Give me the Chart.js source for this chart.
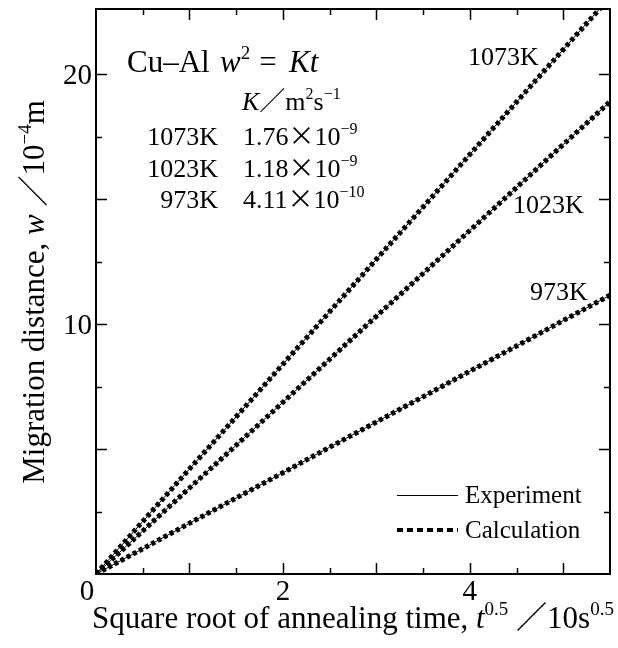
<!DOCTYPE html>
<html>
<head>
<meta charset="utf-8">
<script src="https://cdn.jsdelivr.net/npm/chart.js@4.4.1/dist/chart.umd.min.js"></script>
<style>
  html, body { margin: 0; padding: 0; background: #fff; }
  #wrap { width: 618px; height: 648px; }
</style>
</head>
<body>
<div id="wrap"><canvas id="c" width="618" height="648"></canvas></div>
<script>
// Square root of annealing time (units of 10 s^0.5)
const sqrtTime = [0, 0.5, 1, 1.5, 2, 2.5, 3, 3.5, 4, 4.5, 5, 5.5];
// Migration distance w (units of 1e-4 m) at each annealing temperature
const w1073 = [0, 2.10, 4.20, 6.29, 8.39, 10.49, 12.59, 14.68, 16.78, 18.88, 20.98, 23.07];
const w1023 = [0, 1.72, 3.44, 5.15, 6.87, 8.59, 10.31, 12.02, 13.74, 15.46, 17.18, 18.89];
const w973  = [0, 1.01, 2.03, 3.04, 4.05, 5.07, 6.08, 7.09, 8.11, 9.12, 10.14, 11.15];

const temperatures = ['1073K', '1023K', '973K'];
const kMantissa = ['1.76', '1.18', '4.11'];
const kExponent = ['−9', '−9', '−10'];

const xTickValues = [0, 2, 4];
const xTickLabels = ['0', '2', '4'];
const yTickValues = [10, 20];
const yTickLabels = ['10', '20'];

const seriesW = [w1073, w1023, w973];

const SERIF = '"Liberation Serif", "Times New Roman", serif';
const CJK = '"Noto Sans CJK JP", "Liberation Serif", serif';

function pts(ys) { return sqrtTime.map((x, i) => ({ x: x, y: ys[i] })); }

const datasets = [];
seriesW.forEach((ys, i) => {
  datasets.push({
    label: 'Calculation ' + temperatures[i],
    data: pts(ys),
    borderColor: '#000',
    borderWidth: 5,
    borderDash: [4, 3],
    borderCapStyle: 'butt',
    pointRadius: 0,
    tension: 0,
    fill: false
  });
  datasets.push({
    label: 'Experiment ' + temperatures[i],
    data: pts(ys),
    borderColor: '#000',
    borderWidth: 1,
    pointRadius: 0,
    tension: 0,
    fill: false
  });
});

// Draws a run of text pieces; style: '' regular, 'i' italic, 's' superscript, 'cjk' full-width glyph
function pieceFont(style, size) {
  if (style === 's') return (Math.round(size * 0.62)) + 'px ' + SERIF;
  if (style === 'i') return 'italic ' + size + 'px ' + SERIF;
  if (style === 'cjk') return size + 'px ' + CJK;
  return size + 'px ' + SERIF;
}
function richWidth(ctx, segs, size) {
  let w = 0;
  segs.forEach(([t, st]) => { ctx.font = pieceFont(st, size); w += ctx.measureText(t).width; });
  return w;
}
function drawRich(ctx, segs, x, y, size, align) {
  const total = richWidth(ctx, segs, size);
  let cx = align === 'center' ? x - total / 2 : align === 'right' ? x - total : x;
  ctx.textBaseline = 'alphabetic';
  ctx.textAlign = 'left';
  segs.forEach(([t, st]) => {
    ctx.font = pieceFont(st, size);
    const dy = st === 's' ? -size * 0.42 : 0;
    ctx.fillText(t, cx, y + dy);
    cx += ctx.measureText(t).width;
  });
}

const decorations = {
  id: 'decorations',
  afterDatasetsDraw(chart) {
    const { ctx, chartArea: a, scales: { x, y } } = chart;
    ctx.save();
    ctx.fillStyle = '#000';
    ctx.strokeStyle = '#000';

    // frame
    ctx.lineWidth = 2;
    ctx.strokeRect(a.left, a.top, a.right - a.left, a.bottom - a.top);

    // inward ticks on all four sides
    ctx.lineWidth = 1.5;
    ctx.beginPath();
    for (let k = 1; k < 11; k++) {
      const v = k * 0.5;
      const px = Math.round(x.getPixelForValue(v)) + 0.5;
      const len = k % 2 === 0 ? 11 : 6;
      ctx.moveTo(px, a.bottom); ctx.lineTo(px, a.bottom - len);
      ctx.moveTo(px, a.top); ctx.lineTo(px, a.top + len);
    }
    for (let k = 1; k < 9; k++) {
      const v = k * 2.5;
      const py = Math.round(y.getPixelForValue(v)) + 0.5;
      const len = k % 2 === 0 ? 11 : 6;
      ctx.moveTo(a.left, py); ctx.lineTo(a.left + len, py);
      ctx.moveTo(a.right, py); ctx.lineTo(a.right - len, py);
    }
    ctx.stroke();

    // tick labels
    ctx.font = '29px ' + SERIF;
    ctx.textBaseline = 'alphabetic';
    xTickValues.forEach((v, i) => {
      ctx.textAlign = 'center';
      const px = v === 0 ? x.getPixelForValue(v) - 9 : x.getPixelForValue(v);
      ctx.fillText(xTickLabels[i], px, a.bottom + 26);
    });
    yTickValues.forEach((v, i) => {
      ctx.textAlign = 'right';
      ctx.fillText(yTickLabels[i], a.left - 4, y.getPixelForValue(v) + 10);
    });

    // axis titles
    drawRich(ctx, [
      ['Square root of annealing time, ', ''], ['t', 'i'], ['0.5', 's'],
      [' ', ''], ['／', 'cjk'], ['10s', ''], ['0.5', 's']
    ], 353, a.bottom + 54, 31, 'center');

    ctx.save();
    ctx.translate(44, 292);
    ctx.rotate(-Math.PI / 2);
    drawRich(ctx, [
      ['Migration distance, ', ''], ['w', 'i'], [' ', ''], ['／', 'cjk'],
      ['10', ''], ['−4', 's'], ['m', '']
    ], 0, 0, 31, 'center');
    ctx.restore();

    // equation block
    drawRich(ctx, [['Cu–Al', '']], 127, 72, 31, 'left');
    drawRich(ctx, [['w', 'i'], ['2', 's']], 220, 72, 31, 'left');
    drawRich(ctx, [['=', '']], 268, 72, 31, 'center');
    drawRich(ctx, [['Kt', 'i']], 289, 72, 31, 'left');
    drawRich(ctx, [['K', 'i'], ['／', 'cjk'], ['m', ''], ['2', 's'], ['s', ''], ['−1', 's']], 242, 110, 26, 'left');
    temperatures.forEach((t, i) => {
      const base = 145 + i * 31.5;
      drawRich(ctx, [[t, '']], 218, base, 26, 'right');
      drawRich(ctx, [[kMantissa[i], ''], ['×', 'cjk'], ['10', ''], [kExponent[i], 's']], 243, base, 26, 'left');
    });

    // line labels
    ctx.font = '26px ' + SERIF;
    ctx.textAlign = 'left';
    ctx.fillText(temperatures[0], 468, 65);
    ctx.fillText(temperatures[1], 513, 213);
    ctx.fillText(temperatures[2], 530, 300);

    // legend
    ctx.lineWidth = 1;
    ctx.beginPath();
    ctx.moveTo(397, 495.5); ctx.lineTo(458, 495.5);
    ctx.stroke();
    ctx.lineWidth = 4;
    ctx.setLineDash([6, 4]);
    ctx.beginPath();
    ctx.moveTo(397, 530); ctx.lineTo(458, 530);
    ctx.stroke();
    ctx.setLineDash([]);
    ctx.font = '25px ' + SERIF;
    ctx.fillText('Experiment', 465, 503);
    ctx.fillText('Calculation', 465, 538);

    ctx.restore();
  }
};

new Chart(document.getElementById('c'), {
  type: 'line',
  data: { datasets: datasets },
  options: {
    responsive: false,
    animation: false,
    devicePixelRatio: 1,
    layout: { padding: { left: 96, top: 9, right: 8, bottom: 74 } },
    plugins: { legend: { display: false }, tooltip: { enabled: false } },
    scales: {
      x: { type: 'linear', min: 0, max: 5.5, display: false },
      y: { type: 'linear', min: 0, max: 22.6, display: false }
    }
  },
  plugins: [decorations]
});
</script>
</body>
</html>
